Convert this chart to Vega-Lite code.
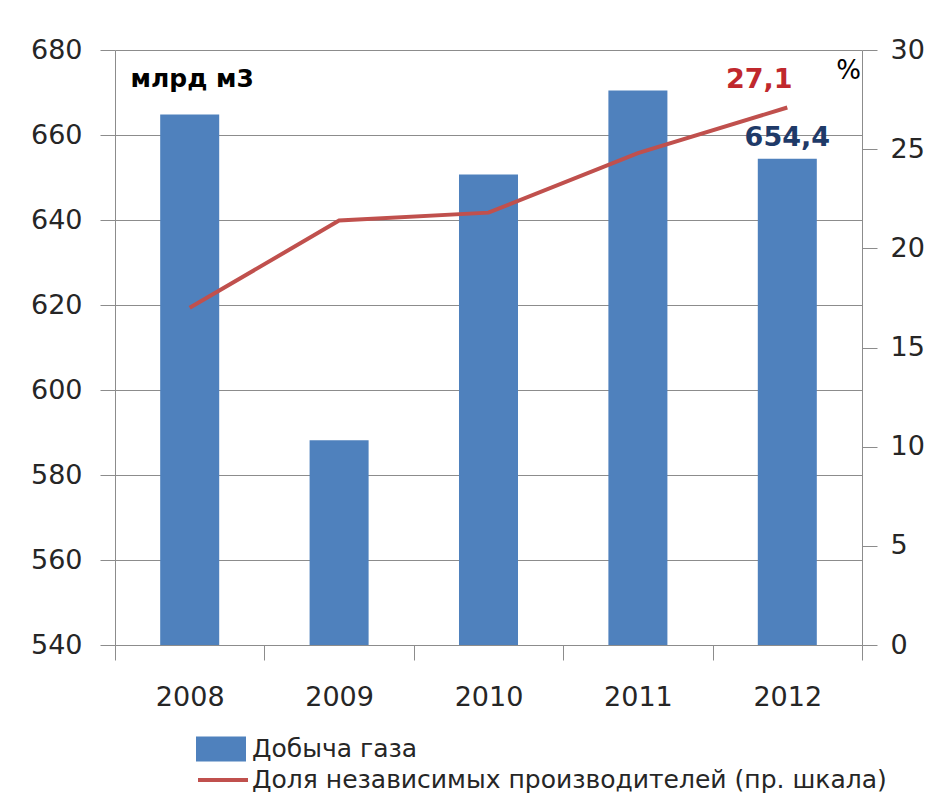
{
  "$schema": "https://vega.github.io/schema/vega-lite/v6.json",
  "width": 747,
  "height": 595,
  "autosize": {"type": "none"},
  "padding": {"left": 115, "top": 50, "right": 79, "bottom": 167},
  "background": "white",
  "config": {
    "view": {"stroke": null},
    "font": "DejaVu Sans",
    "axis": {
      "labelFont": "DejaVu Sans",
      "labelFontSize": 27,
      "labelColor": "#262626",
      "domainColor": "#8c8c8c",
      "tickColor": "#8c8c8c",
      "gridColor": "#8c8c8c",
      "tickSize": 15
    }
  },
  "data": {
    "values": [
      {"year": "2008", "gas": 664.8, "share": 17.0},
      {"year": "2009", "gas": 588.2, "share": 21.4},
      {"year": "2010", "gas": 650.7, "share": 21.8},
      {"year": "2011", "gas": 670.5, "share": 24.8},
      {"year": "2012", "gas": 654.4, "share": 27.1, "gasLabel": "654,4", "shareLabel": "27,1"}
    ]
  },
  "encoding": {
    "x": {
      "field": "year",
      "type": "nominal",
      "scale": {"paddingInner": 0, "paddingOuter": 0},
      "axis": {
        "title": null,
        "labelAngle": 0,
        "labelPadding": 24,
        "tickBand": "extent",
        "domainColor": "#8c8c8c"
      }
    }
  },
  "layer": [
    {
      "layer": [
        {
          "mark": {"type": "bar", "color": "#4F81BD", "width": {"band": 0.395}},
          "encoding": {
            "y": {
              "field": "gas",
              "type": "quantitative",
              "scale": {"domain": [540, 680], "nice": false, "zero": false},
              "axis": {
                "orient": "left",
                "values": [540, 560, 580, 600, 620, 640, 660, 680],
                "grid": true,
                "labelPadding": 18,
                "title": "млрд м3",
                "titleAngle": 0,
                "titleX": 15,
                "titleY": 28,
                "titleAlign": "left",
                "titleBaseline": "middle",
                "titleFont": "DejaVu Sans",
                "titleFontSize": 25,
                "titleFontWeight": "bold",
                "titleColor": "#000000"
              }
            },
            "y2": {"datum": 540},
            "fill": {
              "datum": "Добыча газа",
              "scale": {"range": ["#4F81BD"]},
              "legend": {
                "title": null,
                "orient": "none",
                "legendX": 81,
                "legendY": 674,
                "padding": 0,
                "symbolType": "M-1,-0.5H1V0.5H-1Z",
                "symbolSize": 2500,
                "symbolStrokeWidth": 0,
                "labelOffset": 6,
                "labelLimit": 900,
                "labelFont": "DejaVu Sans",
                "labelFontSize": 25,
                "labelColor": "#262626"
              }
            }
          }
        },
        {
          "transform": [{"filter": "datum.gasLabel != null"}],
          "mark": {"type": "text", "dy": -21, "baseline": "middle", "font": "DejaVu Sans", "fontSize": 27, "fontWeight": "bold", "color": "#1F3A68"},
          "encoding": {
            "y": {"field": "gas", "type": "quantitative"},
            "text": {"field": "gasLabel"}
          }
        }
      ]
    },
    {
      "layer": [
        {
          "mark": {"type": "line", "strokeWidth": 4, "color": "#C0504D"},
          "encoding": {
            "y": {
              "field": "share",
              "type": "quantitative",
              "scale": {"domain": [0, 30], "nice": false},
              "axis": {
                "orient": "right",
                "values": [0, 5, 10, 15, 20, 25, 30],
                "grid": false,
                "labelPadding": 13,
                "title": "%",
                "titleAngle": 0,
                "titleX": -14,
                "titleY": 20,
                "titleAlign": "center",
                "titleBaseline": "middle",
                "titleFont": "DejaVu Sans",
                "titleFontSize": 26,
                "titleFontWeight": "normal",
                "titleColor": "#000000"
              }
            },
            "stroke": {
              "datum": "Доля независимых производителей (пр. шкала)",
              "scale": {"range": ["#C0504D"]},
              "legend": {
                "title": null,
                "orient": "none",
                "legendX": 81,
                "legendY": 703,
                "padding": 0,
                "symbolType": "stroke",
                "symbolSize": 2500,
                "symbolStrokeWidth": 4,
                "labelOffset": 2,
                "labelLimit": 900,
                "labelFont": "DejaVu Sans",
                "labelFontSize": 25,
                "labelColor": "#262626"
              }
            }
          }
        },
        {
          "transform": [{"filter": "datum.shareLabel != null"}],
          "mark": {"type": "text", "dx": -28, "dy": -28, "baseline": "middle", "font": "DejaVu Sans", "fontSize": 27, "fontWeight": "bold", "color": "#C0282D"},
          "encoding": {
            "y": {"field": "share", "type": "quantitative"},
            "text": {"field": "shareLabel"}
          }
        }
      ]
    }
  ],
  "resolve": {"scale": {"y": "independent"}}
}
